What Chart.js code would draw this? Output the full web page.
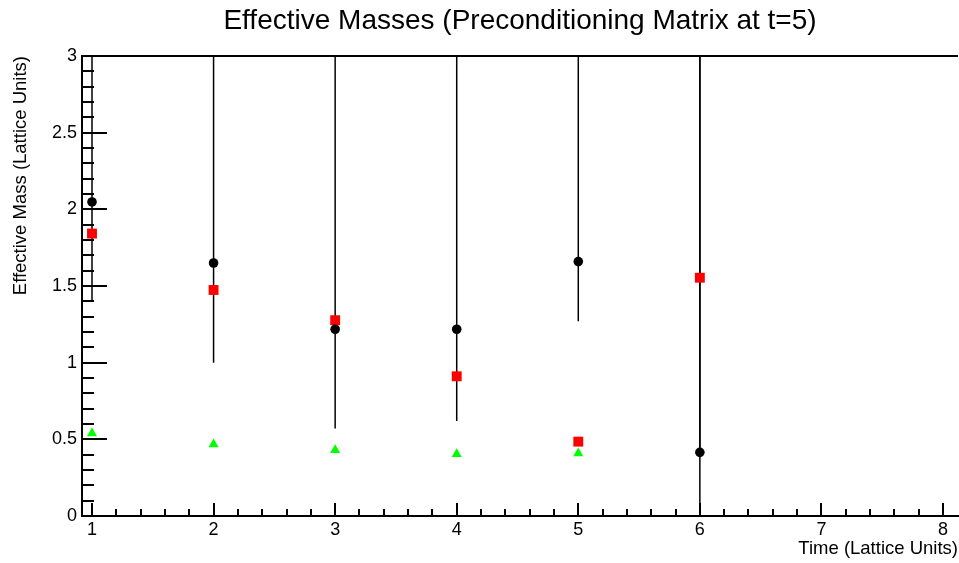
<!DOCTYPE html>
<html>
<head>
<meta charset="utf-8">
<script src="https://cdn.jsdelivr.net/npm/chart.js@4.4.1/dist/chart.umd.min.js"></script>
<style>
html,body{margin:0;padding:0;background:#fff;}
#wrap{width:959px;height:563px;}
</style>
</head>
<body>
<div id="wrap"><canvas id="c" width="959" height="563"></canvas></div>
<script>
// ---- data ----
const times = [1, 2, 3, 4, 5, 6];
const massCircle = [2.048, 1.650, 1.218, 1.218, 1.659, 0.415];
const massCircleLow = [1.40, 1.00, 0.57, 0.62, 1.27, 0.00];
const massCircleHigh = [3.00, 3.00, 3.00, 3.00, 3.00, 3.00];
const massSquare = [1.842, 1.474, 1.277, 0.911, 0.485, 1.554];
const massSquareLow = [null, null, null, null, null, 0.44];
const massSquareHigh = [null, null, null, null, null, 3.00];
const greenTimes = [1, 2, 3, 4, 5];
const massTriangle = [0.539, 0.468, 0.430, 0.404, 0.409];
const xTickValues = [1, 2, 3, 4, 5, 6, 7, 8];
const xTickLabels = ['1', '2', '3', '4', '5', '6', '7', '8'];
const yTickValues = [0, 0.5, 1, 1.5, 2, 2.5, 3];
const yTickLabels = ['0', '0.5', '1', '1.5', '2', '2.5', '3'];
const chartTitle = 'Effective Masses (Preconditioning Matrix at t=5)';
const xAxisTitle = 'Time (Lattice Units)';
const yAxisTitle = 'Effective Mass (Lattice Units)';

const FONT = '"Liberation Sans", Arial, Helvetica, sans-serif';

const toPts = (xs, ys) => xs.map((t, i) => ({x: t, y: ys[i]})).filter(p => p.y != null);

const errorBars = {
  id: 'errorBars',
  beforeDatasetsDraw(chart) {
    const {ctx, chartArea: a, scales: {x, y}} = chart;
    ctx.save();
    ctx.beginPath();
    ctx.rect(a.left, a.top, a.right - a.left, a.bottom - a.top);
    ctx.clip();
    ctx.strokeStyle = '#000';
    ctx.lineWidth = 1.5;
    const draw = (lo, hi) => {
      times.forEach((t, i) => {
        if (lo[i] == null || hi[i] == null) return;
        const px = x.getPixelForValue(t);
        ctx.beginPath();
        ctx.moveTo(px, y.getPixelForValue(lo[i]));
        ctx.lineTo(px, y.getPixelForValue(hi[i]));
        ctx.stroke();
      });
    };
    draw(massCircleLow, massCircleHigh);
    draw(massSquareLow, massSquareHigh);
    ctx.restore();
  }
};

const innerTicks = {
  id: 'innerTicks',
  beforeDatasetsDraw(chart) {
    const {ctx, chartArea: a, scales: {x, y}} = chart;
    ctx.save();
    ctx.strokeStyle = '#000';
    ctx.lineWidth = 2;
    // top frame line
    ctx.beginPath();
    ctx.moveTo(a.left, a.top);
    ctx.lineTo(a.right, a.top);
    ctx.stroke();
    // x ticks (minor 0.2, major 1)
    for (let k = Math.ceil(x.min * 5); k <= Math.floor(x.max * 5); k++) {
      const major = k % 5 === 0;
      const px = Math.round(x.getPixelForValue(k / 5));
      ctx.beginPath();
      ctx.moveTo(px, a.bottom);
      ctx.lineTo(px, a.bottom - (major ? 13 : 7));
      ctx.stroke();
    }
    // y ticks (minor 0.1, major 0.5)
    for (let k = Math.ceil(y.min * 10); k <= Math.floor(y.max * 10 + 1e-9); k++) {
      const major = k % 5 === 0;
      const py = Math.round(y.getPixelForValue(k / 10));
      ctx.beginPath();
      ctx.moveTo(a.left, py);
      ctx.lineTo(a.left + (major ? 25 : 12), py);
      ctx.stroke();
    }
    ctx.restore();
  }
};

new Chart(document.getElementById('c'), {
  type: 'scatter',
  data: {
    datasets: [
      {
        label: 'circle',
        data: toPts(times, massCircle),
        pointStyle: 'circle',
        pointRadius: 4.8,
        pointBackgroundColor: '#000',
        pointBorderColor: '#000',
        pointBorderWidth: 0,
        showLine: false
      },
      {
        label: 'square',
        data: toPts(times, massSquare),
        pointStyle: 'rect',
        pointRadius: 7,
        pointBackgroundColor: '#ff0000',
        pointBorderColor: '#ff0000',
        pointBorderWidth: 0,
        showLine: false
      },
      {
        label: 'triangle',
        data: toPts(greenTimes, massTriangle),
        pointStyle: 'triangle',
        pointRadius: 5.8,
        pointBackgroundColor: '#00ff00',
        pointBorderColor: '#00ff00',
        pointBorderWidth: 0,
        showLine: false
      }
    ]
  },
  options: {
    responsive: false,
    animation: false,
    devicePixelRatio: 1,
    layout: {autoPadding: false, padding: {top: 0, right: 1, bottom: 0, left: 0}},
    plugins: {
      legend: {display: false},
      tooltip: {enabled: false},
      title: {
        display: true,
        text: chartTitle,
        fullSize: false,
        color: '#000',
        font: {family: FONT, size: 28, weight: 'normal', lineHeight: 1.2},
        padding: {top: 4, bottom: 18.4}
      }
    },
    scales: {
      x: {
        type: 'linear',
        min: 0.9177,
        max: 8.1234,
        afterBuildTicks: s => { s.ticks = xTickValues.map(v => ({value: v})); },
        afterFit: s => { s.height = 47; s.paddingLeft = 0; s.paddingRight = 0; },
        grid: {display: false, drawTicks: false, tickLength: 0},
        border: {display: true, color: '#000', width: 2},
        ticks: {
          color: '#000',
          padding: 3,
          maxRotation: 0,
          autoSkip: false,
          font: {family: FONT, size: 18},
          callback: (v, i) => xTickLabels[i]
        },
        title: {
          display: true,
          text: xAxisTitle,
          align: 'end',
          color: '#000',
          font: {family: FONT, size: 18.5},
          padding: {top: 0, bottom: 3}
        }
      },
      y: {
        type: 'linear',
        min: 0,
        max: 3,
        afterBuildTicks: s => { s.ticks = yTickValues.map(v => ({value: v})); },
        afterFit: s => { s.width = 82; s.paddingTop = 0; s.paddingBottom = 0; },
        grid: {display: false, drawTicks: false, tickLength: 0},
        border: {display: true, color: '#000', width: 2},
        ticks: {
          color: '#000',
          padding: 5,
          autoSkip: false,
          font: {family: FONT, size: 18},
          callback: (v, i) => yTickLabels[i]
        },
        title: {
          display: true,
          text: yAxisTitle,
          align: 'end',
          color: '#000',
          font: {family: FONT, size: 18.5},
          padding: {top: 10, bottom: 0}
        }
      }
    }
  },
  plugins: [innerTicks, errorBars]
});
</script>
</body>
</html>
